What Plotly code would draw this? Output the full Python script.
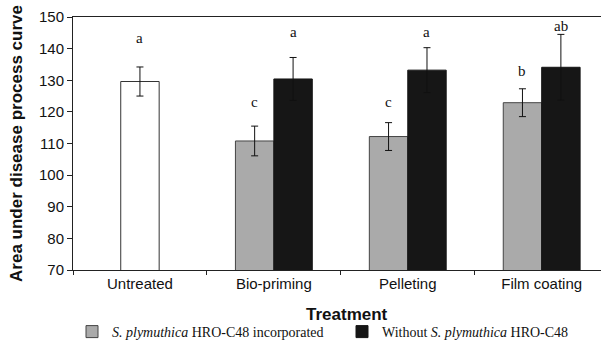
import plotly.graph_objects as go

categories = ["Untreated", "Bio-priming", "Pelleting", "Film coating"]

untreated_value = [129.6]
untreated_err = [4.6]
untreated_letter = ["a"]
untreated_letter_y = [143.4]

with_cats = ["Bio-priming", "Pelleting", "Film coating"]
with_values = [110.8, 112.2, 122.9]
with_err = [4.7, 4.4, 4.4]
with_letters = ["c", "c", "b"]
with_letter_y = [123.2, 123.2, 133.0]

without_values = [130.4, 133.2, 134.1]
without_err = [6.8, 7.1, 10.4]
without_letters = ["a", "a", "ab"]
without_letter_y = [145.2, 145.4, 147.2]

BW = 0.287  # bar width in category units

fig = go.Figure()

err_style = dict(type="data", visible=True, color="#111111", thickness=1, width=3.5)

fig.add_trace(go.Bar(
    x=["Untreated"], y=untreated_value, width=BW, offset=-BW / 2,
    marker=dict(color="white", line=dict(color="#333333", width=1)),
    error_y=dict(array=untreated_err, **err_style),
    showlegend=False, name="Untreated",
))
fig.add_trace(go.Bar(
    x=with_cats, y=with_values, width=BW, offset=-BW,
    marker=dict(color="#aaaaaa", line=dict(color="#444444", width=1)),
    error_y=dict(array=with_err, **err_style),
    name="<i>S. plymuthica</i> HRO-C48 incorporated",
    legend="legend",
))
fig.add_trace(go.Bar(
    x=with_cats, y=without_values, width=BW, offset=0,
    marker=dict(color="#161616", line=dict(color="#161616", width=1)),
    error_y=dict(array=without_err, **err_style),
    name="Without <i>S. plymuthica</i> HRO-C48",
    legend="legend2",
))

letter_font = dict(family="Liberation Serif", size=15, color="#111111")

def idx(c):
    return categories.index(c)

annots = []
for c, t, ly in zip(["Untreated"], untreated_letter, untreated_letter_y):
    annots.append(dict(x=idx(c), y=ly, text=t))
for c, t, ly in zip(with_cats, with_letters, with_letter_y):
    annots.append(dict(x=idx(c) - BW / 2, y=ly, text=t))
for c, t, ly in zip(with_cats, without_letters, without_letter_y):
    annots.append(dict(x=idx(c) + BW / 2, y=ly, text=t))
for a in annots:
    fig.add_annotation(xref="x", yref="y", showarrow=False, font=letter_font,
                       xanchor="center", yanchor="middle", **a)

fig.add_annotation(xref="paper", yref="paper", x=0.5196, y=-0.175,
                   text="<b>Treatment</b>", showarrow=False,
                   font=dict(family="Liberation Sans", size=17, color="#111111"),
                   xanchor="center", yanchor="middle")

legend_common = dict(orientation="h", xref="container", yref="container",
                     xanchor="left", yanchor="top", y=1 - 316 / 340,
                     font=dict(family="Liberation Serif", size=14, color="#111111"),
                     bgcolor="rgba(0,0,0,0)")

fig.update_layout(
    width=601, height=340,
    margin=dict(l=73, r=0, t=17, b=70),
    paper_bgcolor="white", plot_bgcolor="white",
    barmode="overlay",
    showlegend=True,
    legend=dict(x=72 / 601, **legend_common),
    legend2=dict(x=342 / 601, **legend_common),
    font=dict(family="Liberation Sans", color="#111111"),
)

fig.update_xaxes(
    type="category", categoryorder="array", categoryarray=categories,
    range=[-0.5, 3.443],
    showline=True, linecolor="#222222", linewidth=1, mirror=True,
    ticks="outside", tickson="boundaries", ticklen=4, tickcolor="#222222",
    tickfont=dict(family="Liberation Sans", size=15, color="#111111"),
    showgrid=False, zeroline=False,
)
fig.update_yaxes(
    range=[70, 150], dtick=10,
    showline=True, linecolor="#222222", linewidth=1,
    ticks="outside", ticklen=5, tickcolor="#222222",
    tickfont=dict(family="Liberation Sans", size=15, color="#111111"),
    showgrid=False, zeroline=False,
    title=dict(text="<b>Area under disease process curve</b>",
               font=dict(family="Liberation Sans", size=17, color="#111111"),
               standoff=12),
)

fig.write_html("out.html")
